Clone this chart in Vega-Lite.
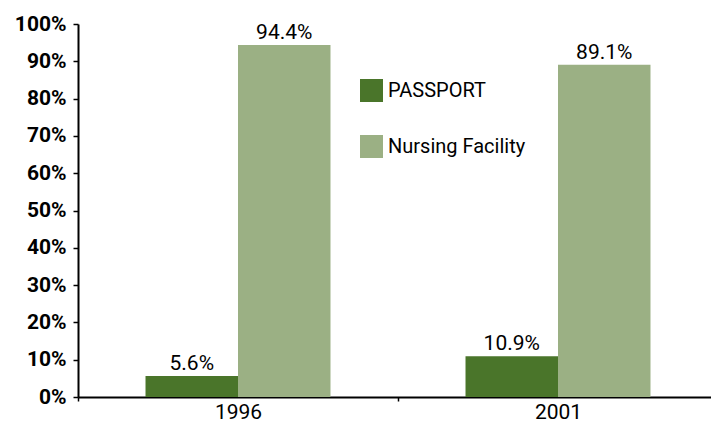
{
  "$schema": "https://vega.github.io/schema/vega-lite/v6.json",
  "autosize": {"type": "none"},
  "padding": {"left": 78, "top": 24, "right": 0, "bottom": 25},
  "width": 633,
  "height": 373,
  "background": "white",
  "config": {
    "view": {"stroke": null},
    "font": "Roboto",
    "axis": {"grid": false, "title": null, "domainColor": "black", "tickColor": "black", "labelColor": "black", "labelFont": "Roboto"},
    "legend": {"labelFont": "Roboto"}
  },
  "data": {
    "values": [
      {"year": "1996", "type": "PASSPORT", "value": 0.056},
      {"year": "1996", "type": "Nursing Facility", "value": 0.944},
      {"year": "2001", "type": "PASSPORT", "value": 0.109},
      {"year": "2001", "type": "Nursing Facility", "value": 0.891}
    ]
  },
  "encoding": {
    "x": {
      "field": "year", "type": "nominal",
      "scale": {"range": [0, 640], "paddingInner": 0, "paddingOuter": 0},
      "axis": {"labelAngle": 0, "tickBand": "extent", "domainWidth": 2, "tickWidth": 1.5, "tickSize": 4, "labelFontSize": 21, "labelPadding": 0}
    },
    "xOffset": {
      "field": "type", "type": "nominal",
      "sort": ["PASSPORT", "Nursing Facility"],
      "scale": {"paddingInner": 0, "paddingOuter": 0.73}
    },
    "y": {
      "field": "value", "type": "quantitative",
      "scale": {"domain": [0, 1], "nice": false},
      "axis": {"format": ".0%", "values": [0,0.1,0.2,0.3,0.4,0.5,0.6,0.7,0.8,0.9,1], "labelOverlap": false, "domainWidth": 2, "tickWidth": 1.5, "tickSize": 5, "labelFontSize": 21, "labelFontWeight": "bold", "labelPadding": 7}
    }
  },
  "layer": [
    {
      "mark": {"type": "bar"},
      "encoding": {
        "color": {
          "field": "type", "type": "nominal",
          "sort": ["PASSPORT", "Nursing Facility"],
          "scale": {"domain": ["PASSPORT", "Nursing Facility"], "range": ["#4a752a", "#9bb084"]},
          "legend": {
            "title": null, "orient": "none", "legendX": 282, "legendY": 55,
            "symbolType": "square", "symbolSize": 529, "symbolStrokeWidth": 0,
            "labelFontSize": 20, "labelOffset": 5, "rowPadding": 33, "labelColor": "black"
          }
        }
      }
    },
    {
      "mark": {"type": "text", "baseline": "alphabetic", "dy": -6, "fontSize": 21, "color": "black", "font": "Roboto"},
      "encoding": {
        "text": {"field": "value", "type": "quantitative", "format": ".1%"}
      }
    }
  ]
}
